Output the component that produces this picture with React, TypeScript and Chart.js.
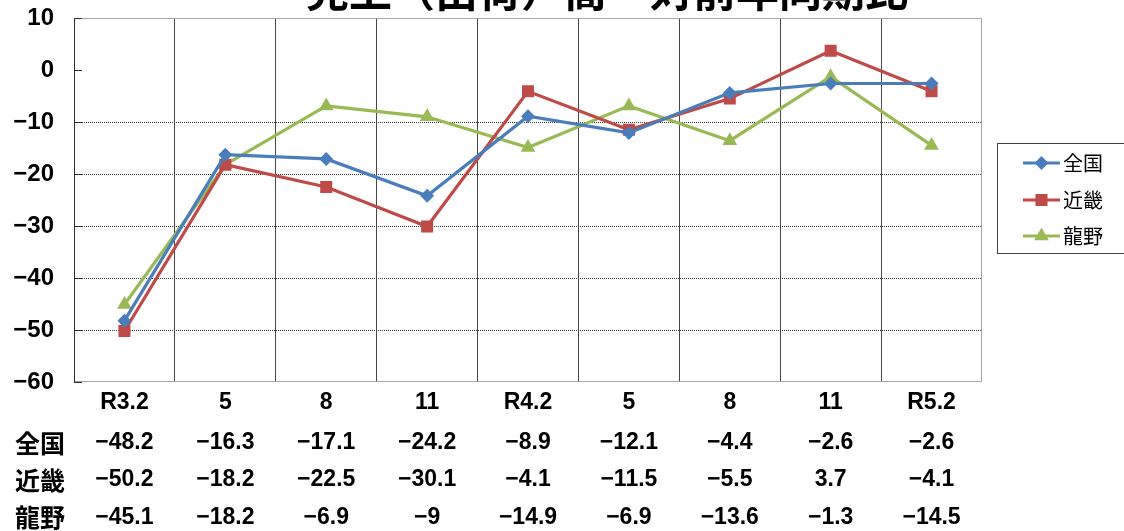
import React, { useEffect, useRef } from 'react';
import { Chart, registerables } from 'chart.js';

Chart.register(...registerables);

const TITLE = '売上（出荷）高　対前年同期比';
const categories = ['R3.2', '5', '8', '11', 'R4.2', '5', '8', '11', 'R5.2'];
const seriesNames = ['全国', '近畿', '龍野'];
const zenkoku = [-48.2, -16.3, -17.1, -24.2, -8.9, -12.1, -4.4, -2.6, -2.6];
const kinki = [-50.2, -18.2, -22.5, -30.1, -4.1, -11.5, -5.5, 3.7, -4.1];
const tatsuno = [-45.1, -18.2, -6.9, -9, -14.9, -6.9, -13.6, -1.3, -14.5];
const yMin = -60;
const yMax = 10;
const yStep = 10;

const seriesValues = [zenkoku, kinki, tatsuno];
const colors = ['#4A7EBB', '#BE4B48', '#98B954'];
const markers = ['rectRot', 'rect', 'triangle'];
const markerRadius = [7, 8.5, 8.5];

const NUM_FONT = "'Liberation Sans', 'Noto Sans CJK JP', sans-serif";
const CJK_FONT = "'Noto Sans CJK JP', sans-serif";

const fmt = (v: number) => String(v).replace('-', '\u2212');

function drawMarker(ctx: CanvasRenderingContext2D, style: string, x: number, y: number, r: number, color: string) {
  ctx.save();
  ctx.fillStyle = color;
  ctx.beginPath();
  if (style === 'rectRot') {
    ctx.moveTo(x, y - r);
    ctx.lineTo(x + r, y);
    ctx.lineTo(x, y + r);
    ctx.lineTo(x - r, y);
  } else if (style === 'rect') {
    const s = r * Math.SQRT1_2;
    ctx.rect(x - s, y - s, 2 * s, 2 * s);
  } else {
    ctx.moveTo(x, y - r);
    ctx.lineTo(x + r * 0.866, y + r / 2);
    ctx.lineTo(x - r * 0.866, y + r / 2);
  }
  ctx.closePath();
  ctx.fill();
  ctx.restore();
}

const decorPlugin = {
  id: 'decor',
  beforeDatasetsDraw(chart: any) {
    const { ctx, chartArea: a } = chart;
    ctx.save();
    ctx.lineWidth = 1;
    ctx.strokeStyle = '#a6a6a6';
    ctx.beginPath();
    ctx.moveTo(a.left, a.top + 0.5);
    ctx.lineTo(a.right - 0.5, a.top + 0.5);
    ctx.lineTo(a.right - 0.5, a.bottom - 0.5);
    ctx.lineTo(a.left, a.bottom - 0.5);
    ctx.stroke();
    ctx.strokeStyle = '#2b2b2b';
    ctx.beginPath();
    ctx.moveTo(a.left + 0.5, a.top);
    ctx.lineTo(a.left + 0.5, a.bottom);
    const ys = chart.scales.y;
    ys.ticks.forEach((t: any) => {
      const y = Math.round(ys.getPixelForValue(t.value)) + 0.5;
      ctx.moveTo(a.left, y);
      ctx.lineTo(a.left + 8, y);
    });
    ctx.stroke();
    ctx.restore();
  },
  afterDraw(chart: any) {
    const { ctx, chartArea: a } = chart;
    const xs = chart.scales.x;
    ctx.save();
    // title (mostly above the visible area)
    ctx.fillStyle = '#000';
    ctx.font = `bold 43px ${CJK_FONT}`;
    ctx.textAlign = 'center';
    ctx.textBaseline = 'ideographic';
    ctx.fillText(TITLE, 607, 12);

    // data table
    const rowY = [a.bottom + 61, a.bottom + 98, a.bottom + 135.5];
    ctx.textBaseline = 'middle';
    seriesNames.forEach((name, r) => {
      ctx.textAlign = 'left';
      ctx.font = `bold 25px ${CJK_FONT}`;
      ctx.fillText(name, 15, rowY[r]);
      ctx.textAlign = 'center';
      ctx.font = `bold 23px ${NUM_FONT}`;
      seriesValues[r].forEach((v, i) => {
        ctx.fillText(fmt(v), xs.getPixelForValue(i), rowY[r]);
      });
    });

    // legend
    const lx = 997.5;
    const ly = 143.5;
    ctx.strokeStyle = '#404040';
    ctx.lineWidth = 1;
    ctx.strokeRect(lx, ly, 140, 110);
    const itemY = [163, 200, 236];
    chart.data.datasets.forEach((ds: any, i: number) => {
      const y = itemY[i];
      ctx.strokeStyle = ds.borderColor;
      ctx.lineWidth = 3;
      ctx.beginPath();
      ctx.moveTo(1023, y);
      ctx.lineTo(1060, y);
      ctx.stroke();
      drawMarker(ctx, markers[i], 1041.5, y, markerRadius[i], ds.borderColor);
      ctx.fillStyle = '#000';
      ctx.font = `20px ${CJK_FONT}`;
      ctx.textAlign = 'left';
      ctx.textBaseline = 'middle';
      ctx.fillText(ds.label, 1063, y);
    });
    ctx.restore();
  },
};

export default function App() {
  const ref = useRef<HTMLCanvasElement | null>(null);
  useEffect(() => {
    if (!ref.current) return;
    const chart = new Chart(ref.current, {
      type: 'line',
      data: {
        labels: categories,
        datasets: seriesNames.map((name, i) => ({
          label: name,
          data: seriesValues[i],
          borderColor: colors[i],
          backgroundColor: colors[i],
          borderWidth: 3.2,
          pointStyle: markers[i] as any,
          pointRadius: markerRadius[i],
          pointBorderWidth: 0,
          pointBackgroundColor: colors[i],
          pointBorderColor: colors[i],
          tension: 0,
          fill: false,
        })),
      },
      options: {
        responsive: false,
        animation: false,
        layout: { padding: { top: 18, right: 142, left: 0, bottom: 0 } },
        plugins: {
          legend: { display: false },
          title: { display: false },
          tooltip: { enabled: false },
        },
        scales: {
          x: {
            type: 'category',
            offset: true,
            grid: {
              offset: true,
              drawTicks: false,
              lineWidth: 1,
              color: (c: any) => (c.type !== 'tick' || c.index === 0 ? 'rgba(0,0,0,0)' : '#474747'),
            },
            border: { display: false },
            ticks: {
              color: '#000',
              padding: 7,
              maxRotation: 0,
              autoSkip: false,
              font: { family: NUM_FONT, size: 23, weight: 'bold' },
            },
            afterFit: (s: any) => {
              s.height = 149;
              s.paddingLeft = 0;
              s.paddingRight = 0;
            },
          },
          y: {
            min: yMin,
            max: yMax,
            ticks: {
              stepSize: yStep,
              color: '#000',
              padding: 20,
              font: { family: NUM_FONT, size: 24, weight: 'bold' },
              callback: (v: any) => fmt(Number(v)),
            },
            grid: {
              drawTicks: false,
              lineWidth: 1,
              color: (c: any) =>
                c.type === 'tick' && c.tick && c.tick.value < 0 && c.tick.value > yMin ? '#3c3c3c' : 'rgba(0,0,0,0)',
            },
            border: {
              display: false,
              dash: (c: any) => (c.type === 'tick' ? [1, 1] : []),
            },
            afterFit: (s: any) => {
              s.width = 74;
              s.paddingTop = 0;
              s.paddingBottom = 0;
            },
          },
        },
      },
      plugins: [decorPlugin],
    });
    return () => chart.destroy();
  }, []);
  return (
    <div style={{ position: 'absolute', left: 0, top: 0, width: 1124, height: 531, background: '#fff' }}>
      <canvas ref={ref} width={1124} height={531} style={{ display: 'block' }} />
    </div>
  );
}
